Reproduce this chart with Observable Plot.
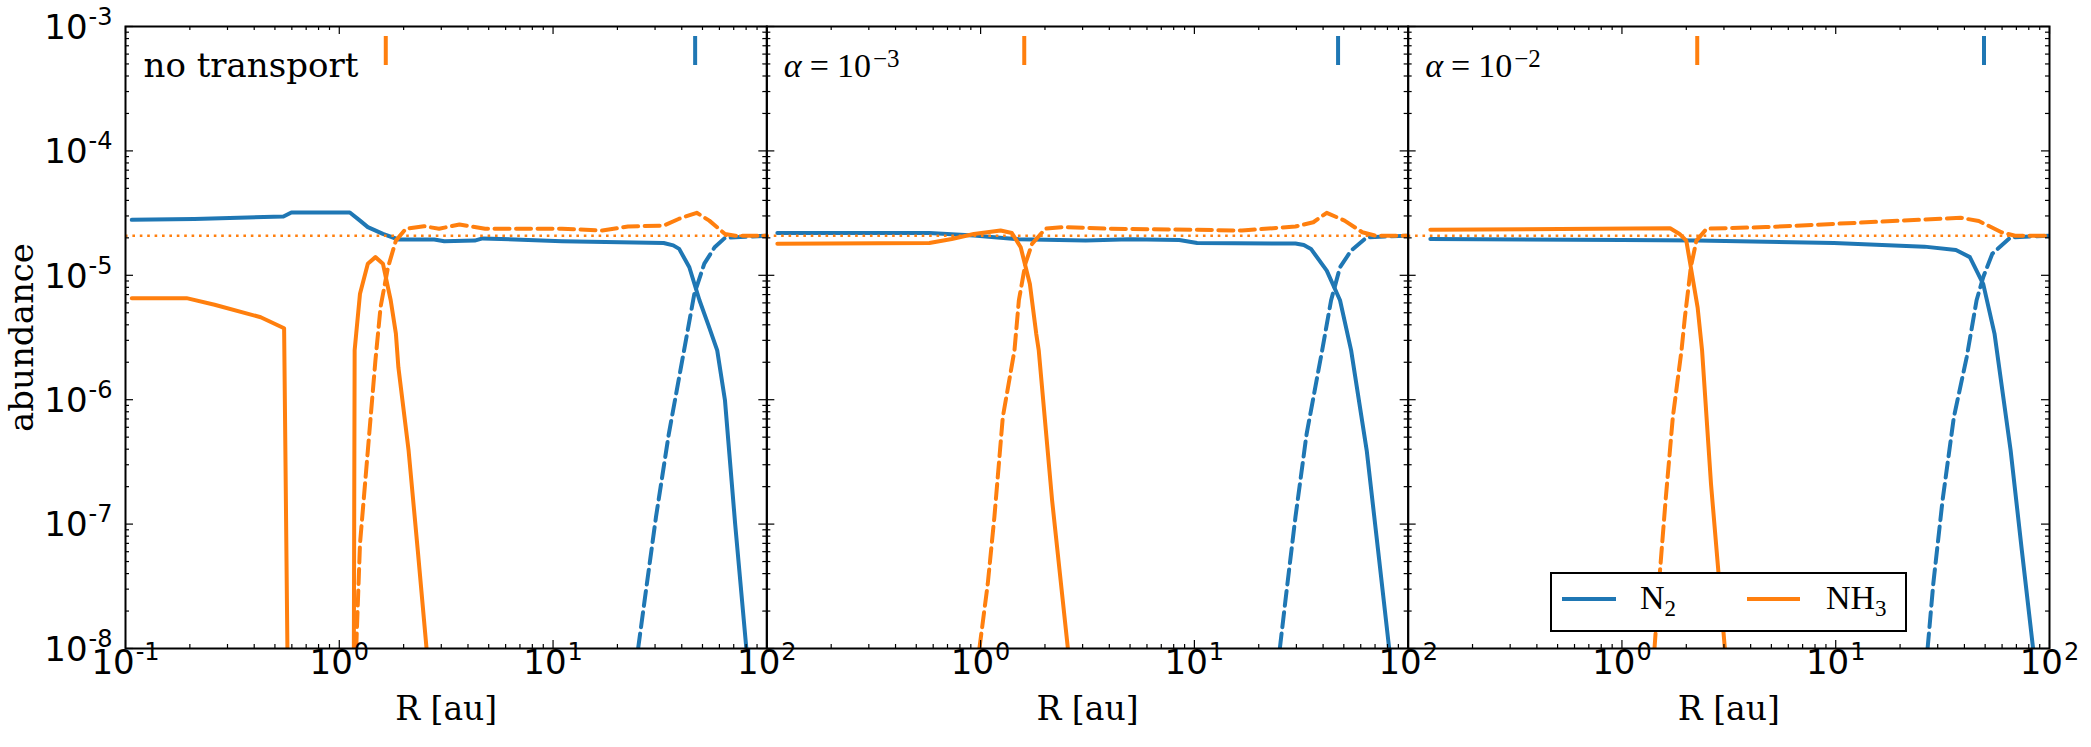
<!DOCTYPE html>
<html>
<head>
<meta charset="utf-8">
<script src="https://cdn.jsdelivr.net/npm/d3@7"></script>
<script src="https://cdn.jsdelivr.net/npm/@observablehq/plot@0.6"></script>
<style>
  body { margin: 0; background: #fff; }
  #wrap { position: relative; width: 2091px; height: 747px; overflow: hidden; }
  #legend { position: absolute; left: 1550px; top: 572px; width: 357px; height: 60px; box-sizing: border-box;
            border: 2px solid #000; background: #fff; }
  #legend svg { display: block; }
</style>
</head>
<body>
<div id="wrap"></div>
<script>
// ---------------- data ----------------
const panelIds = ["none", "a1e-3", "a1e-2"];
const panelTitles = ["no transport", "α=10^−3", "α=10^−2"];
const speciesNames = ["N2", "NH3"];
const speciesColors = ["#1f77b4", "#ff7f0e"];

const xMajorTicks = [0.1, 1, 10, 100];
const xTickLabels = ["10^-1", "10^0", "10^1", "10^2"];
const yMajorTicks = [1e-8, 1e-7, 1e-6, 1e-5, 1e-4, 1e-3];
const yTickLabels = ["10^-8", "10^-7", "10^-6", "10^-5", "10^-4", "10^-3"];
const xAxisTitle = "R [au]";
const yAxisTitle = "abundance";

const refAbundance = 2.08e-5;           // dotted reference level
const snowlineNH3 = [1.65, 1.6, 2.25];  // short orange markers, per panel
const snowlineN2 = [46.2, 47, 49.4];    // short blue markers, per panel

// panel 1: no transport
const none_N2_solid = [[0.107,2.79e-5],[0.21,2.84e-5],[0.548,2.97e-5],[0.597,3.2e-5],[1.12,3.2e-5],[1.25,2.75e-5],[1.36,2.44e-5],[1.6,2.15e-5],[1.89,1.94e-5],[2.78,1.94e-5],[3.1,1.88e-5],[4.3,1.9e-5],[4.68,1.98e-5],[11,1.88e-5],[32.9,1.82e-5],[36.5,1.74e-5],[38.9,1.63e-5],[43.4,1.16e-5],[48.4,6.3e-6],[53.5,3.9e-6],[58.6,2.49e-6],[63.7,9.9e-7],[71.1,1.0e-7],[80.2,1e-8]];
const none_N2_dashed = [[25,1e-8],[27.2,2.92e-8],[30.3,1.14e-7],[34.8,5.32e-7],[41,2.49e-6],[45.8,7.1e-6],[51,1.24e-5],[57,1.68e-5],[63.7,2.0e-5],[100,2.08e-5]];
const none_NH3_solid_inner = [[0.107,6.55e-6],[0.193,6.55e-6],[0.261,5.8e-6],[0.429,4.6e-6],[0.552,3.75e-6],[0.572,1e-8]];
const none_NH3_solid_outer = [[1.17,1e-8],[1.18,2.5e-6],[1.2,3.4e-6],[1.25,7.1e-6],[1.36,1.24e-5],[1.476,1.4e-5],[1.6,1.24e-5],[1.74,6.3e-6],[1.84,3.4e-6],[1.89,1.82e-6],[2.11,3.9e-7],[2.33,6.1e-8],[2.56,1e-8]];
const none_NH3_dashed = [[1.2,1e-8],[1.25,6.95e-8],[1.36,3.89e-7],[1.476,2.07e-6],[1.56,5.55e-6],[1.69,1.16e-5],[1.84,1.9e-5],[2.05,2.37e-5],[2.49,2.48e-5],[2.93,2.37e-5],[3.65,2.56e-5],[4.81,2.37e-5],[11,2.37e-5],[17,2.29e-5],[22.4,2.47e-5],[32.9,2.51e-5],[38.9,2.85e-5],[47,3.18e-5],[53.8,2.75e-5],[63.7,2.15e-5],[71.1,2.08e-5],[100,2.08e-5]];

// panel 2: alpha = 1e-3
const a3_N2_solid = [[0.112,2.19e-5],[0.576,2.19e-5],[0.93,2.09e-5],[1.51,1.95e-5],[3.1,1.9e-5],[5.0,1.95e-5],[8.5,1.92e-5],[10.3,1.82e-5],[29.7,1.8e-5],[32.5,1.75e-5],[35.1,1.63e-5],[41.6,1.09e-5],[48,6.3e-6],[54.1,2.49e-6],[64,3.9e-7],[72.3,6.2e-8],[81.5,1e-8]];
const a3_N2_dashed = [[25.1,1e-8],[27,2.92e-8],[29.7,1.14e-7],[33.5,5.32e-7],[39.6,2.49e-6],[43.6,6.3e-6],[48,1.16e-5],[54.1,1.58e-5],[64,2.02e-5],[100,2.08e-5]];
const a3_NH3_solid = [[0.112,1.79e-5],[0.576,1.82e-5],[0.733,1.96e-5],[0.93,2.15e-5],[1.24,2.29e-5],[1.4,2.19e-5],[1.54,1.68e-5],[1.7,8.5e-6],[1.82,3.4e-6],[1.87,2.5e-6],[2.16,1.55e-7],[2.56,1e-8]];
const a3_NH3_dashed = [[0.987,1e-8],[1.08,3.31e-8],[1.16,1.14e-7],[1.27,7.24e-7],[1.44,2.49e-6],[1.51,6.3e-6],[1.62,1.24e-5],[1.74,1.79e-5],[2.01,2.37e-5],[2.44,2.44e-5],[3.94,2.37e-5],[10.3,2.32e-5],[16.7,2.29e-5],[29.7,2.47e-5],[36,2.67e-5],[41.6,3.18e-5],[50.4,2.75e-5],[61,2.22e-5],[70.5,2.08e-5],[100,2.08e-5]];

// panel 3: alpha = 1e-2
const a2_N2_solid = [[0.127,1.96e-5],[1,1.92e-5],[2.26,1.9e-5],[9.8,1.82e-5],[26,1.7e-5],[36.5,1.6e-5],[42.4,1.4e-5],[49,8.5e-6],[55.3,3.4e-6],[65.8,3.9e-7],[74.2,6.2e-8],[83.8,1e-8]];
const a2_N2_dashed = [[26.9,1e-8],[28.6,3.31e-8],[31.6,1.55e-7],[35.7,7.24e-7],[41,2.2e-6],[45.6,6.3e-6],[49,9.7e-6],[54,1.49e-5],[65.8,2.02e-5],[100,2.08e-5]];
const a2_NH3_solid = [[0.127,2.32e-5],[1.68,2.39e-5],[1.86,2.15e-5],[2.0,1.9e-5],[2.1,1.16e-5],[2.26,5.5e-6],[2.37,2.5e-6],[2.61,2.1e-7],[3.03,1e-8]];
const a2_NH3_dashed = [[1.42,1e-8],[1.49,3.31e-8],[1.6,1.55e-7],[1.73,7.24e-7],[1.9,2.5e-6],[1.97,4.6e-6],[2.1,1.16e-5],[2.23,1.9e-5],[2.49,2.37e-5],[4.7,2.44e-5],[9.8,2.59e-5],[20.3,2.75e-5],[38.4,2.9e-5],[46.7,2.73e-5],[59.6,2.22e-5],[69,2.08e-5],[100,2.08e-5]];

// ---------------- tables ----------------
const series = [
  {panel: "none",  species: "N2",  style: "solid",  pts: none_N2_solid},
  {panel: "none",  species: "N2",  style: "dashed", pts: none_N2_dashed},
  {panel: "none",  species: "NH3", style: "solid",  pts: none_NH3_solid_inner},
  {panel: "none",  species: "NH3", style: "solid",  pts: none_NH3_solid_outer},
  {panel: "none",  species: "NH3", style: "dashed", pts: none_NH3_dashed},
  {panel: "a1e-3", species: "N2",  style: "solid",  pts: a3_N2_solid},
  {panel: "a1e-3", species: "N2",  style: "dashed", pts: a3_N2_dashed},
  {panel: "a1e-3", species: "NH3", style: "solid",  pts: a3_NH3_solid},
  {panel: "a1e-3", species: "NH3", style: "dashed", pts: a3_NH3_dashed},
  {panel: "a1e-2", species: "N2",  style: "solid",  pts: a2_N2_solid},
  {panel: "a1e-2", species: "N2",  style: "dashed", pts: a2_N2_dashed},
  {panel: "a1e-2", species: "NH3", style: "solid",  pts: a2_NH3_solid},
  {panel: "a1e-2", species: "NH3", style: "dashed", pts: a2_NH3_dashed}
];
const rows = series.flatMap((s, i) => s.pts.map(([R, v]) => ({panel: s.panel, species: s.species, style: s.style, key: i, R, v})));

const snowRows = panelIds.flatMap((p, i) => [
  {panel: p, species: "NH3", R: snowlineNH3[i]},
  {panel: p, species: "N2", R: snowlineN2[i]}
]);

const xLabelRows = panelIds.flatMap((p, i) => xMajorTicks
  .map((t, j) => ({panel: p, R: t, label: xTickLabels[j]}))
  .filter((d, j) => i === 0 || j > 0));
const yLabelRows = yMajorTicks.map((t, j) => ({panel: "none", v: t, label: yTickLabels[j]}));

const xMinorTicks = [0.1, 1, 10].flatMap(d => [2,3,4,5,6,7,8,9].map(k => k * d));
const yMinorTicks = [1e-8, 1e-7, 1e-6, 1e-5, 1e-4].flatMap(d => [2,3,4,5,6,7,8,9].map(k => k * d));

// ---------------- layout ----------------
const W = 2091, H = 747;
const mL = 125, mR = 42, mT = 26, mB = 99;
const innerH = H - mT - mB;
const facetW = (W - mL - mR) / 3;
const majorLen = 8, minorLen = 4;

const tickStyle = {stroke: "#000", strokeWidth: 1.2};

const chart = Plot.plot({
  width: W, height: H,
  marginLeft: mL, marginRight: mR, marginTop: mT, marginBottom: mB,
  x: {type: "log", domain: [0.1, 100], axis: null},
  y: {type: "log", domain: [1e-8, 1e-3], axis: null},
  fx: {domain: panelIds, padding: 0, round: false, axis: null, label: null},
  color: {domain: speciesNames, range: speciesColors},
  style: {background: "#fff", overflow: "visible"},
  marks: [
    Plot.line(rows.filter(d => d.style === "solid"), {
      x: "R", y: "v", z: "key", fx: "panel", stroke: "species",
      strokeWidth: 4, strokeLinejoin: "round", clip: true
    }),
    Plot.line(rows.filter(d => d.style === "dashed"), {
      x: "R", y: "v", z: "key", fx: "panel", stroke: "species",
      strokeWidth: 4, strokeDasharray: "15,6.5", strokeLinejoin: "round", clip: true
    }),
    Plot.ruleY([refAbundance], {stroke: speciesColors[1], strokeWidth: 2.6, strokeDasharray: "2.6,4.8"}),

    // ticks (inward, all four sides, major + minor)
    Plot.tickX(xMajorTicks, {x: d => d, insetTop: innerH - majorLen, ...tickStyle}),
    Plot.tickX(xMajorTicks, {x: d => d, insetBottom: innerH - majorLen, ...tickStyle}),
    Plot.tickX(xMinorTicks, {x: d => d, insetTop: innerH - minorLen, ...tickStyle}),
    Plot.tickX(xMinorTicks, {x: d => d, insetBottom: innerH - minorLen, ...tickStyle}),
    Plot.tickY(yMajorTicks, {y: d => d, insetRight: facetW - majorLen, ...tickStyle}),
    Plot.tickY(yMajorTicks, {y: d => d, insetLeft: facetW - majorLen, ...tickStyle}),
    Plot.tickY(yMinorTicks, {y: d => d, insetRight: facetW - minorLen, ...tickStyle}),
    Plot.tickY(yMinorTicks, {y: d => d, insetLeft: facetW - minorLen, ...tickStyle}),

    Plot.frame({stroke: "#000", strokeWidth: 2}),

    // snowline markers
    Plot.tickX(snowRows, {x: "R", fx: "panel", stroke: "species", strokeWidth: 4,
      insetTop: 10, insetBottom: innerH - 39}),

    // panel titles
    Plot.text([{panel: panelIds[0], label: panelTitles[0]}], {
      fx: "panel", text: "label", frameAnchor: "top-left", textAnchor: "start",
      dx: 18, dy: 26, fontSize: 34, fontFamily: "DejaVu Serif", fill: "#000"
    }),
    Plot.text([{panel: panelIds[1], label: panelTitles[1]}, {panel: panelIds[2], label: panelTitles[2]}], {
      fx: "panel", text: "label", frameAnchor: "top-left", textAnchor: "start",
      dx: 17, dy: 26, fontSize: 34, fontFamily: "Liberation Serif", fill: "#000"
    }),

    // tick labels
    Plot.text(xLabelRows, {
      x: "R", fx: "panel", text: "label", frameAnchor: "bottom", textAnchor: "middle",
      dy: 25, fontSize: 34, fontFamily: "DejaVu Sans", fill: "#000"
    }),
    Plot.text(yLabelRows, {
      y: "v", fx: "panel", text: "label", frameAnchor: "left", textAnchor: "end",
      dx: -13, dy: 1.5, fontSize: 34, fontFamily: "DejaVu Sans", fill: "#000"
    }),

    // axis titles
    Plot.text(panelIds.map(p => ({panel: p, label: xAxisTitle})), {
      fx: "panel", text: "label", frameAnchor: "bottom", textAnchor: "middle",
      dy: 71.5, fontSize: 33, fontFamily: "DejaVu Serif", fill: "#000"
    }),
    Plot.text([{panel: panelIds[0], label: yAxisTitle}], {
      fx: "panel", text: "label", frameAnchor: "left", textAnchor: "middle", rotate: -90,
      dx: -103, fontSize: 34, fontFamily: "DejaVu Serif", fill: "#000"
    })
  ]
});

// superscripts for "10^k" labels
const NS = "http://www.w3.org/2000/svg";
chart.querySelectorAll("text").forEach(t => {
  const m = /^(α=)?10\^(.+)$/.exec(t.textContent);
  if (!m) return;
  t.textContent = "";
  const add = (txt, attrs) => {
    const e = document.createElementNS(NS, "tspan");
    e.textContent = txt;
    for (const k in attrs) e.setAttribute(k, attrs[k]);
    t.appendChild(e);
  };
  if (m[1]) {
    add("α", {"font-style": "italic"});
    add("=", {dx: 8});
    add("10", {dx: 8});
    add(m[2], {dx: 2, dy: -10, "font-size": 25});
  } else {
    add("10", {});
    add(m[2], {dx: 1, dy: -14, "font-size": 24});
  }
});

const wrap = document.getElementById("wrap");
wrap.append(chart);

// legend (inside third panel)
const legend = document.createElement("div");
legend.id = "legend";
legend.innerHTML = `<svg width="353" height="56" font-family="Liberation Serif" font-size="34">
  <line x1="10" x2="64" y1="25" y2="25" stroke="${speciesColors[0]}" stroke-width="4"/>
  <text x="88" y="35">N<tspan dy="7" font-size="23">2</tspan></text>
  <line x1="195" x2="248" y1="25" y2="25" stroke="${speciesColors[1]}" stroke-width="4"/>
  <text x="274" y="35">NH<tspan dy="7" font-size="23">3</tspan></text>
</svg>`;
wrap.append(legend);
</script>
</body>
</html>
